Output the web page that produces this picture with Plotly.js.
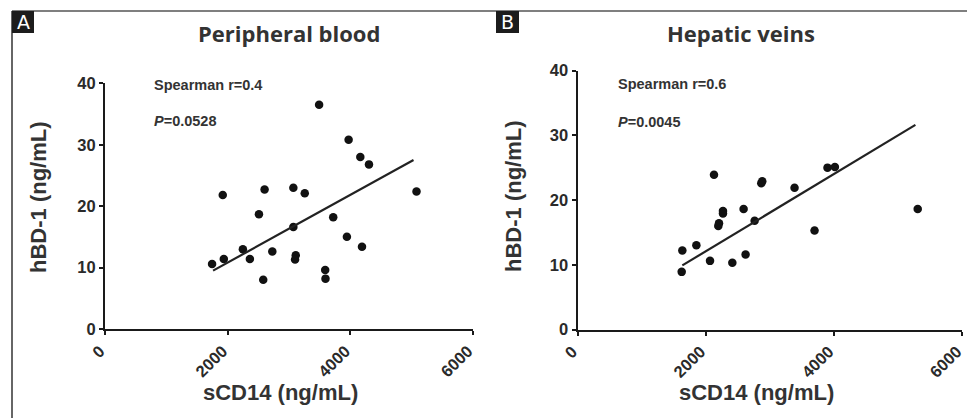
<!DOCTYPE html>
<html>
<head>
<meta charset="utf-8">
<script src="https://cdn.plot.ly/plotly-3.0.1.min.js"></script>
<style>html,body{margin:0;padding:0;background:#fff;}#chart{width:967px;height:418px;}</style>
</head>
<body>
<div id="chart"></div>
<script>
// ---- Data ----
const xTicks = [0, 2000, 4000, 6000];
const yTicks = [0, 10, 20, 30, 40];

// Panel A: Peripheral blood
const pbX = [1746,1937,1920,2248,2362,2510,2602,2580,2728,3071,3071,3257,3110,3099,3491,3590,3595,3721,3944,3972,4163,4190,4304,5079];
const pbY = [10.6,11.4,21.8,13.0,11.4,18.7,22.7,8.0,12.6,16.6,23.0,22.1,12.0,11.3,36.5,9.6,8.2,18.2,15.0,30.8,28.0,13.4,26.8,22.4];
const pbFitX = [1762, 5030];
const pbFitY = [9.5, 27.5];

// Panel B: Hepatic veins
const hvX = [1626,1636,1855,2068,2130,2197,2208,2270,2270,2416,2592,2623,2764,2868,2883,3387,3699,3901,4016,5309];
const hvY = [8.9,12.2,13.0,10.6,23.9,16.0,16.4,18.3,17.9,10.3,18.6,11.6,16.8,22.6,22.9,21.9,15.3,25.0,25.1,18.6];
const hvFitX = [1636, 5273];
const hvFitY = [9.9, 31.6];

const panelTitles = ['Peripheral blood', 'Hepatic veins'];
const panelLetters = ['A', 'B'];
const statR = ['Spearman r=0.4', 'Spearman r=0.6'];
const statP = ['0.0528', '0.0045'];
const xTitle = 'sCD14 (ng/mL)';
const yTitle = 'hBD-1 (ng/mL)';

// ---- Layout helpers ----
const W = 967, H = 418;
const fx = x => x / W;
const fy = y => 1 - y / H;

const ink = '#1a1a1a';
const txt = '#333';
const arial = 'Liberation Sans, Arial, sans-serif';

const markerStyle = {color: '#111', size: 8.5};
const lineStyle = {color: '#222', width: 2.2};

const traces = [
  {x: pbX, y: pbY, type: 'scatter', mode: 'markers', marker: markerStyle, xaxis: 'x', yaxis: 'y', hoverinfo: 'x+y'},
  {x: pbFitX, y: pbFitY, type: 'scatter', mode: 'lines', line: lineStyle, xaxis: 'x', yaxis: 'y', hoverinfo: 'skip'},
  {x: hvX, y: hvY, type: 'scatter', mode: 'markers', marker: markerStyle, xaxis: 'x2', yaxis: 'y2', hoverinfo: 'x+y'},
  {x: hvFitX, y: hvFitY, type: 'scatter', mode: 'lines', line: lineStyle, xaxis: 'x2', yaxis: 'y2', hoverinfo: 'skip'}
];

const tickFont = {family: arial, size: 16.5, color: '#2a2a2a'};

function xAxis(domain, anchor) {
  return {
    domain: domain, anchor: anchor, range: [0, 6000], tickvals: xTicks,
    ticktext: xTicks.map(v => '<b>' + v + '</b>'),
    tickangle: -45, showline: true, linewidth: 2, linecolor: ink, ticks: 'outside', ticklen: 4,
    tickwidth: 2, tickcolor: ink, showgrid: false, zeroline: false, fixedrange: true,
    ticklabelshift: -5, ticklabeloverflow: 'allow', tickfont: tickFont
  };
}
function yAxis(domain, anchor) {
  return {
    domain: domain, anchor: anchor, range: [0, 40], tickvals: yTicks,
    ticktext: yTicks.map(v => '<b>' + v + '</b>'),
    showline: true, linewidth: 2, linecolor: ink, ticks: 'outside', ticklen: 4,
    tickwidth: 2, tickcolor: ink, showgrid: false, zeroline: false, fixedrange: true,
    ticklabeloverflow: 'allow', tickfont: tickFont
  };
}

const annotations = [];
function ann(text, x, y, font, extra) {
  annotations.push(Object.assign({text: text, xref: 'paper', yref: 'paper', x: fx(x), y: fy(y),
    showarrow: false, font: font, xanchor: 'center', yanchor: 'middle'}, extra || {}));
}

const titleFont = {family: 'Open Sans, sans-serif', size: 22, color: txt};
const axTitleFont = {family: arial, size: 22, color: txt};
const statFont = {family: arial, size: 14.5, color: txt};
const letterFont = {family: 'DejaVu Sans, sans-serif', size: 19, color: '#fff'};

const b = s => '<b>' + s + '</b>';

// Panel A texts
ann(b(panelTitles[0]), 289, 33, titleFont);
ann(b(yTitle), 38, 197, axTitleFont, {textangle: -90});
ann(b(xTitle), 280, 392, axTitleFont);
ann(b(statR[0]), 152, 85, statFont, {xanchor: 'left'});
ann(b('<i>P</i>=' + statP[0]), 152, 121, statFont, {xanchor: 'left'});
ann(panelLetters[0], 23, 22, letterFont);

// Panel B texts
ann(b(panelTitles[1]), 741, 33, titleFont);
ann(b(yTitle), 513, 196, axTitleFont, {textangle: -90});
ann(b(xTitle), 756, 392, axTitleFont);
ann(b(statR[1]), 616, 84, statFont, {xanchor: 'left'});
ann(b('<i>P</i>=' + statP[1]), 616, 122, statFont, {xanchor: 'left'});
ann(panelLetters[1], 507.5, 22, letterFont);

const shapes = [
  {type: 'line', xref: 'paper', yref: 'paper', x0: fx(12), x1: 1, y0: fy(11), y1: fy(11), line: {color: '#555', width: 1.5}},
  {type: 'line', xref: 'paper', yref: 'paper', x0: fx(12), x1: fx(12), y0: fy(11), y1: 0, line: {color: '#333', width: 1.5}},
  {type: 'rect', xref: 'paper', yref: 'paper', x0: fx(12), x1: fx(34), y0: fy(11), y1: fy(33), fillcolor: '#1c1c1c', line: {width: 0}},
  {type: 'rect', xref: 'paper', yref: 'paper', x0: fx(496), x1: fx(519), y0: fy(11), y1: fy(33), fillcolor: '#1c1c1c', line: {width: 0}}
];

const layout = {
  width: W, height: H, margin: {l: 0, r: 0, t: 0, b: 0},
  paper_bgcolor: '#fff', plot_bgcolor: '#fff', showlegend: false,
  xaxis: xAxis([fx(105), fx(473)], 'y'),
  yaxis: yAxis([fy(329), fy(83.3)], 'x'),
  xaxis2: xAxis([fx(577.5), fx(962)], 'y2'),
  yaxis2: yAxis([fy(329.5), fy(70.5)], 'x2'),
  annotations: annotations,
  shapes: shapes
};

Plotly.newPlot('chart', traces, layout, {displayModeBar: false, staticPlot: true});
</script>
</body>
</html>
